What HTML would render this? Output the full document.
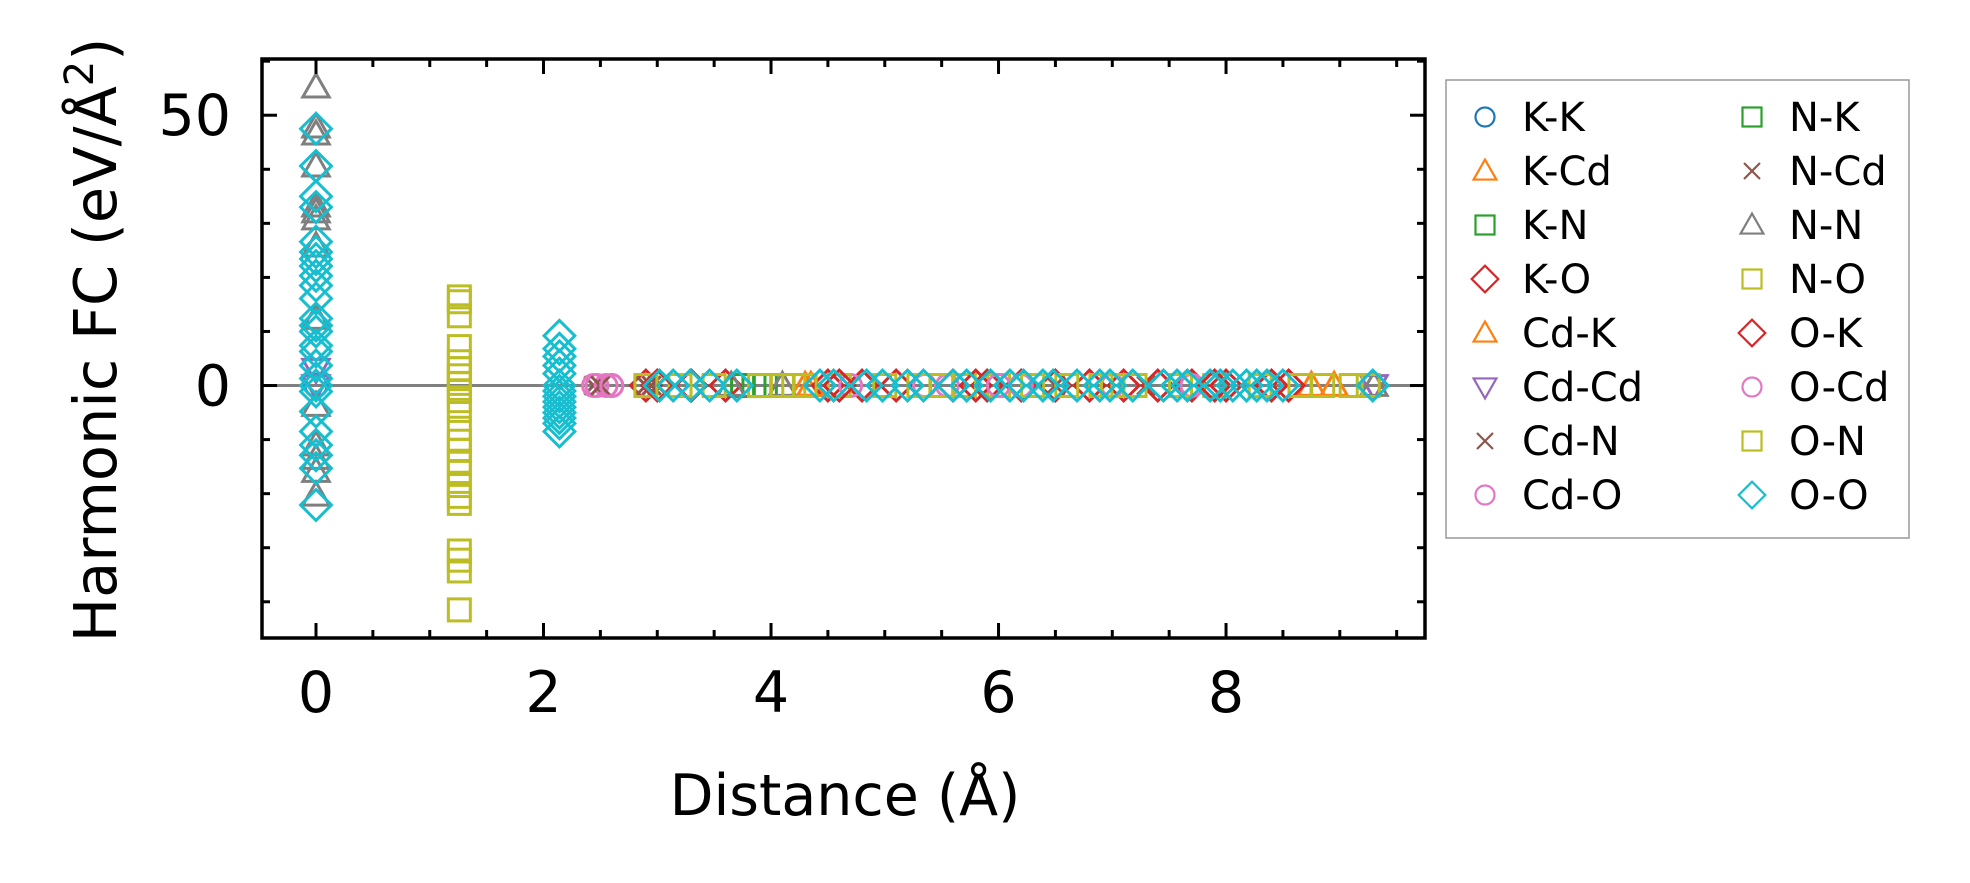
<!DOCTYPE html>
<html><head><meta charset="utf-8"><style>
html,body{margin:0;padding:0;background:#fff;}
svg{display:block;font-family:"DejaVu Sans","Liberation Sans",sans-serif;}
</style></head><body>
<svg id="chart" width="1970" height="883" viewBox="0 0 1970 883" xmlns="http://www.w3.org/2000/svg">
<rect width="1970" height="883" fill="#fff"/>
<g id="plot"></g>
<g id="axes"></g>
<text x="845" y="815" font-size="57" text-anchor="middle">Distance (Å)</text>
<text transform="translate(116,340) rotate(-90)" font-size="59" text-anchor="middle">Harmonic FC (eV/Å<tspan baseline-shift="super" font-size="40">2</tspan>)</text>
<g id="legend"></g>
</svg>
<script>
const xTicks = [0, 2, 4, 6, 8];
const yTicks = [0, 50];
const seriesNames = ["K-K","K-Cd","K-N","K-O","Cd-K","Cd-Cd","Cd-N","Cd-O","N-K","N-Cd","N-N","N-O","O-K","O-Cd","O-N","O-O"];
const seriesColors = ["#1f77b4","#ff7f0e","#2ca02c","#d62728","#ff7f0e","#9467bd","#8c564b","#e377c2","#2ca02c","#8c564b","#7f7f7f","#bcbd22","#d62728","#e377c2","#bcbd22","#17becf"];
const seriesMarkers = ["o","^","s","D","^","v","x","o","s","x","^","s","D","o","s","D"];
// data: [distance, value]
const kkData = [[0,0]];
const kcdData = [[4.3,0],[8.75,0]];
const knData = [[3.75,0]];
const koData = [[2.9,0],[3.3,0],[3.6,0],[4.5,0],[4.8,0],[5.1,0],[5.6,0],[5.9,0],[6.2,0],[6.5,0],[6.8,0],[7.1,0],[7.4,0],[7.7,0],[8.0,0],[8.4,0],[8.55,0]];
const cdkData = [[8.95,0],[4.35,0]];
const cdcdData = [[0,3],[0,0],[9.3,0]];
const cdnData = [[2.44,0],[2.9,0],[3.0,0],[6.5,0],[7.3,0]];
const cdoData = [[2.44,0],[2.47,0],[2.55,0],[2.6,0],[4.7,0],[5.35,0],[5.55,0],[6.2,0],[7.0,0],[7.7,0]];
const nkData = [[3.95,0],[3.85,0]];
const ncdData = [[2.5,0],[2.95,0]];
const nnData = [[0,55.2],[0,47.8],[0,46.5],[0,40.6],[0,33.2],[0,32.1],[0,30.8],[0,25.8],[0,12.4],[0,-3.7],[0,-11],[0,-13.5],[0,-15.9],[0,-20.3],[3.65,0],[4.1,0],[9.3,0]];
const noData = [[1.26,16.4],[1.26,15.5],[1.26,12.9],[1.26,7.2],[1.26,4.4],[1.26,3.1],[1.26,1.8],[1.26,0.4],[1.26,-1.1],[1.26,-2.8],[1.26,-4.6],[1.26,-7.9],[1.26,-10.3],[1.26,-12],[1.26,-14],[1.26,-15.9],[1.26,-18.5],[1.26,-20.5],[1.26,-21.8],[1.26,-30.6],[1.26,-32.3],[1.26,-34.3],[1.26,-41.5],
  [2.9,0],[3.2,0],[3.5,0],[3.9,0],[4.1,0],[4.3,0],[4.6,0],[5.0,0],[5.3,0],[5.7,0],[6.0,0],[6.3,0],[6.6,0],[6.9,0],[7.2,0],[7.6,0],[7.9,0],[8.3,0],[8.65,0],[8.85,0],[9.1,0],[9.25,0]];
const okData = [[3.0,0],[4.6,0],[5.8,0],[7.9,0]];
const ocdData = [[2.6,0],[6.0,0]];
const onData = [[4.2,0],[5.5,0],[7.0,0]];
const ooData = [[0,47.5],[0,40.6],[0,35],[0,33],[0,26.6],[0,24.7],[0,23.4],[0,22.1],[0,20.3],[0,18.5],[0,16.1],[0,12.4],[0,11.1],[0,10],[0,7.4],[0,6.3],[0,3.7],[0,1.3],[0,0],[0,-1.1],[0,-4.8],[0,-8.5],[0,-11],[0,-12.9],[0,-15.3],[0,-22.1],
  [2.14,9.2],[2.14,6.8],[2.14,5.4],[2.14,3.7],[2.14,2.2],[2.14,0],[2.14,-1],[2.14,-2],[2.14,-3],[2.14,-4],[2.14,-5],[2.14,-6],[2.14,-7],[2.14,-8.5],
  [3.02,0],[3.14,0],[3.29,0],[3.46,0],[3.70,0],[4.43,0],[4.55,0],[4.84,0],[4.98,0],[5.20,0],[5.34,0],[5.60,0],[5.72,0],[5.93,0],[6.10,0],
  [6.22,0],[6.39,0],[6.48,0],[6.69,0],[6.89,0],[6.98,0],[7.18,0],[7.45,0],[7.57,0],[7.66,0],[7.86,0],[7.95,0],[8.06,0],[8.18,0],[8.27,0],[8.36,0],[8.50,0],[9.29,0]];
const seriesData = [kkData,kcdData,knData,koData,cdkData,cdcdData,cdnData,cdoData,nkData,ncdData,nnData,noData,okData,ocdData,onData,ooData];

const L=262,R=1425,T=59,B=638;
const xMin=-0.4747,xMax=9.749,yMin=-46.7,yMax=60.4;
const xs=v=>L+(v-xMin)/(xMax-xMin)*(R-L);
const ys=v=>B-(v-yMin)/(yMax-yMin)*(B-T);
const NS="http://www.w3.org/2000/svg";
function mk(tag,attrs,parent){const e=document.createElementNS(NS,tag);for(const k in attrs)e.setAttribute(k,attrs[k]);parent.appendChild(e);return e;}

function marker(parent,m,cx,cy,color,s,w){
  let e;
  if(m==="o") e=mk("circle",{cx:cx,cy:cy,r:s*0.5,fill:"none",stroke:color,"stroke-width":w},parent);
  else if(m==="s") e=mk("rect",{x:cx-s*0.5,y:cy-s*0.5,width:s,height:s,fill:"none",stroke:color,"stroke-width":w},parent);
  else if(m==="D"){const h=s*0.7;e=mk("polygon",{points:`${cx},${cy-h} ${cx+h},${cy} ${cx},${cy+h} ${cx-h},${cy}`,fill:"none",stroke:color,"stroke-width":w},parent);}
  else if(m==="^"){const h=s*0.6;e=mk("polygon",{points:`${cx},${cy-h} ${cx+h},${cy+h*0.75} ${cx-h},${cy+h*0.75}`,fill:"none",stroke:color,"stroke-width":w},parent);}
  else if(m==="v"){const h=s*0.6;e=mk("polygon",{points:`${cx},${cy+h} ${cx+h},${cy-h*0.75} ${cx-h},${cy-h*0.75}`,fill:"none",stroke:color,"stroke-width":w},parent);}
  else {const h=s*0.42;e=mk("path",{d:`M${cx-h},${cy-h}L${cx+h},${cy+h}M${cx-h},${cy+h}L${cx+h},${cy-h}`,fill:"none",stroke:color,"stroke-width":w},parent);}
  return e;
}

const plot=document.getElementById("plot");
const zl=mk("line",{x1:L,x2:R,y1:ys(0),y2:ys(0),stroke:"#808080","stroke-width":3},plot);


seriesData.forEach((arr,i)=>{
  const g=mk("g",{},plot);
  
  
  arr.forEach(p=>{
    const e=marker(g,seriesMarkers[i],xs(p[0]),ys(p[1]),seriesColors[i],22,3);
    
    
  });
});

const ax=document.getElementById("axes");
const frame=mk("rect",{x:L,y:T,width:R-L,height:B-T,fill:"none",stroke:"#000","stroke-width":3.5},ax);


for(let k=-1;k<=19;k++){const v=k*0.5;const x=xs(v);if(x<L||x>R)continue;const len=(k%4===0)?15:8;
  mk("line",{x1:x,x2:x,y1:B,y2:B-len,stroke:"#000","stroke-width":3},ax);
  mk("line",{x1:x,x2:x,y1:T,y2:T+len,stroke:"#000","stroke-width":3},ax);}
for(let k=-4;k<=6;k++){const v=k*10;const y=ys(v);if(y<T||y>B)continue;const len=(k%5===0)?15:8;
  mk("line",{x1:L,x2:L+len,y1:y,y2:y,stroke:"#000","stroke-width":3},ax);
  mk("line",{x1:R,x2:R-len,y1:y,y2:y,stroke:"#000","stroke-width":3},ax);}
xTicks.forEach(v=>{const t=mk("text",{x:xs(v),y:712,"font-size":57,"text-anchor":"middle"},ax);t.textContent=v;
  
  });
yTicks.forEach(v=>{const t=mk("text",{x:231,y:ys(v)+20,"font-size":57,"text-anchor":"end"},ax);t.textContent=v;
  
  });

const lg=document.getElementById("legend");
const box=mk("rect",{x:1446,y:80,width:463,height:458,fill:"#fff",stroke:"#999","stroke-width":1.5},lg);


seriesNames.forEach((n,i)=>{
  const col=Math.floor(i/8),row=i%8;
  const cx=col?1752:1485, cy=117+row*54;
  const g=mk("g",{},lg);
  
  
  marker(g,seriesMarkers[i],cx,cy,seriesColors[i],19,2.2);
  const t=mk("text",{x:cx+37,y:cy+14,"font-size":40},g);t.textContent=n;
});
</script>
</body></html>
